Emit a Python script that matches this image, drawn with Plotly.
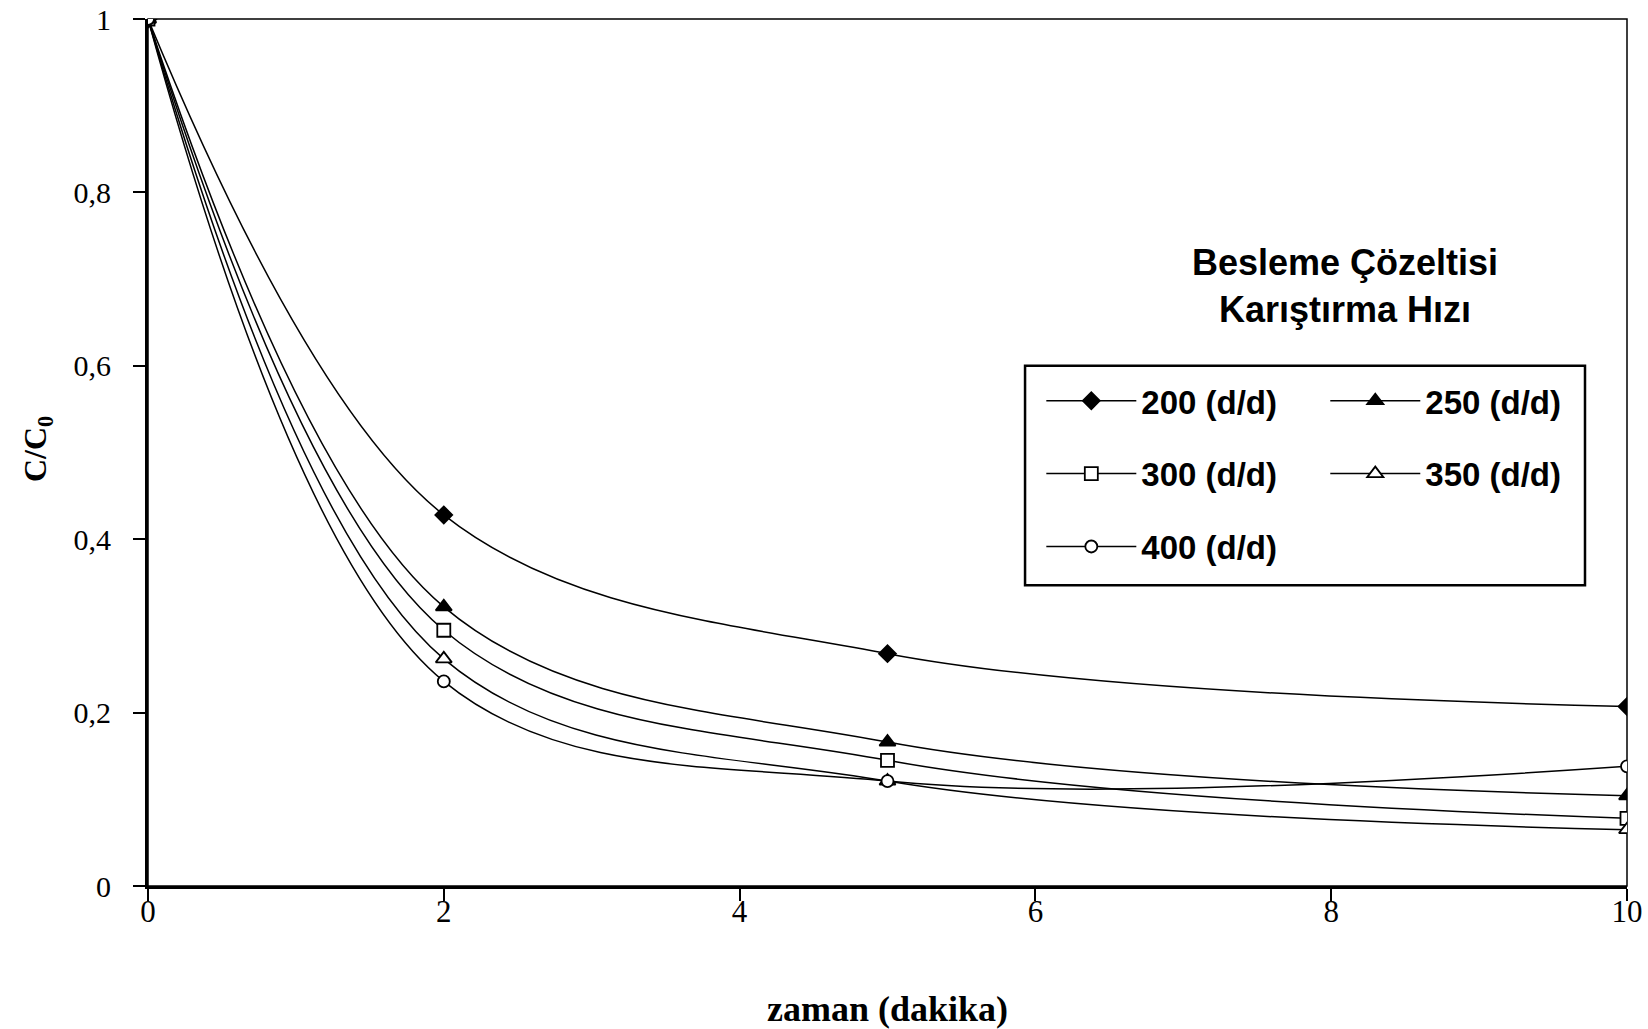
import plotly.graph_objects as go

time_min = [0, 2, 5, 10]
series_names = ["200 (d/d)", "250 (d/d)", "300 (d/d)", "350 (d/d)", "400 (d/d)"]
c200 = [1.0, 0.428, 0.268, 0.207]
c250 = [1.0, 0.322, 0.166, 0.104]
c300 = [1.0, 0.295, 0.145, 0.078]
c350 = [1.0, 0.262, 0.121, 0.065]
c400 = [1.0, 0.236, 0.121, 0.138]
x_ticks = [0, 2, 4, 6, 8, 10]
y_ticks = [0, 0.2, 0.4, 0.6, 0.8, 1]

values = [c200, c250, c300, c350, c400]
symbols = ["diamond", "triangle-up", "square", "triangle-up", "circle"]
fills = ["black", "black", "white", "white", "white"]
sizes = [13, 14, 13, 14, 12]
legends = ["legend", "legend2", "legend", "legend2", "legend"]

fig = go.Figure()
for name, vals, sym, fc, sz, lg in zip(series_names, values, symbols, fills, sizes, legends):
    fig.add_trace(go.Scatter(
        x=time_min, y=vals, name=name, mode="lines+markers",
        line=dict(color="black", width=1.5, shape="spline", smoothing=1),
        marker=dict(symbol=sym, size=sz, color=fc, line=dict(color="black", width=1.8)),
        legend=lg, legendgroup=name,
    ))

legend_common = dict(
    font=dict(family="Liberation Sans, Arial", size=33, color="black", weight="bold"),
    bgcolor="rgba(0,0,0,0)", borderwidth=0, orientation="v",
    tracegroupgap=27, itemwidth=90, yanchor="top", xanchor="left",
)

fig.update_layout(
    width=1648, height=1029,
    margin=dict(l=148, r=21, t=19, b=143, autoexpand=False),
    plot_bgcolor="white", paper_bgcolor="white",
    separators=", ",
    showlegend=True,
    legend=dict(x=0.604, y=0.592, **legend_common),
    legend2=dict(x=0.796, y=0.592, **legend_common),
    font=dict(family="Liberation Serif, Times New Roman", color="black"),
    xaxis=dict(
        range=[0, 10], tickvals=x_ticks, showgrid=False, zeroline=False, automargin=False,
        showline=True, linecolor="black", linewidth=3,
        ticks="outside", ticklen=12, tickwidth=1.5, tickcolor="black",
        ticklabelstandoff=-16, ticklabeloverflow="allow",
        tickfont=dict(family="Liberation Serif, Times New Roman", size=31),
        title=dict(text="<b>zaman (dakika)</b>",
                   font=dict(family="Liberation Serif, Times New Roman", size=36),
                   standoff=68),
    ),
    yaxis=dict(
        range=[0, 1], tickvals=y_ticks, showgrid=False, zeroline=False, automargin=False,
        showline=True, linecolor="black", linewidth=3,
        ticks="outside", ticklen=12, tickwidth=1.5, tickcolor="black",
        ticklabelstandoff=16, ticklabeloverflow="allow",
        tickfont=dict(family="Liberation Serif, Times New Roman", size=30),
    ),
    shapes=[
        dict(type="rect", xref="paper", yref="paper", x0=0, x1=1, y0=0, y1=1,
             line=dict(color="black", width=1.5), layer="below"),
        dict(type="rect", xref="paper", yref="paper", x0=0.593, x1=0.9716, y0=0.347, y1=0.600,
             line=dict(color="black", width=2.5), fillcolor="rgba(0,0,0,0)"),
    ],
    annotations=[
        dict(text="Besleme Çözeltisi<br>Karıştırma Hızı", xref="paper", yref="paper",
             x=0.809, y=0.692, xanchor="center", yanchor="middle",
             showarrow=False, align="center",
             font=dict(family="Liberation Sans, Arial", size=36, color="black", weight="bold")),
        dict(text="<b>C/C<sub>0</sub></b>", xref="paper", yref="paper",
             x=-0.075, y=0.504, xanchor="center", yanchor="middle",
             showarrow=False, textangle=-90,
             font=dict(family="Liberation Serif, Times New Roman", size=32, color="black")),
    ],
)

fig.write_html("out.html", config={"displayModeBar": False},
               post_script="document.body.style.margin='0';document.body.style.overflow='hidden';")
